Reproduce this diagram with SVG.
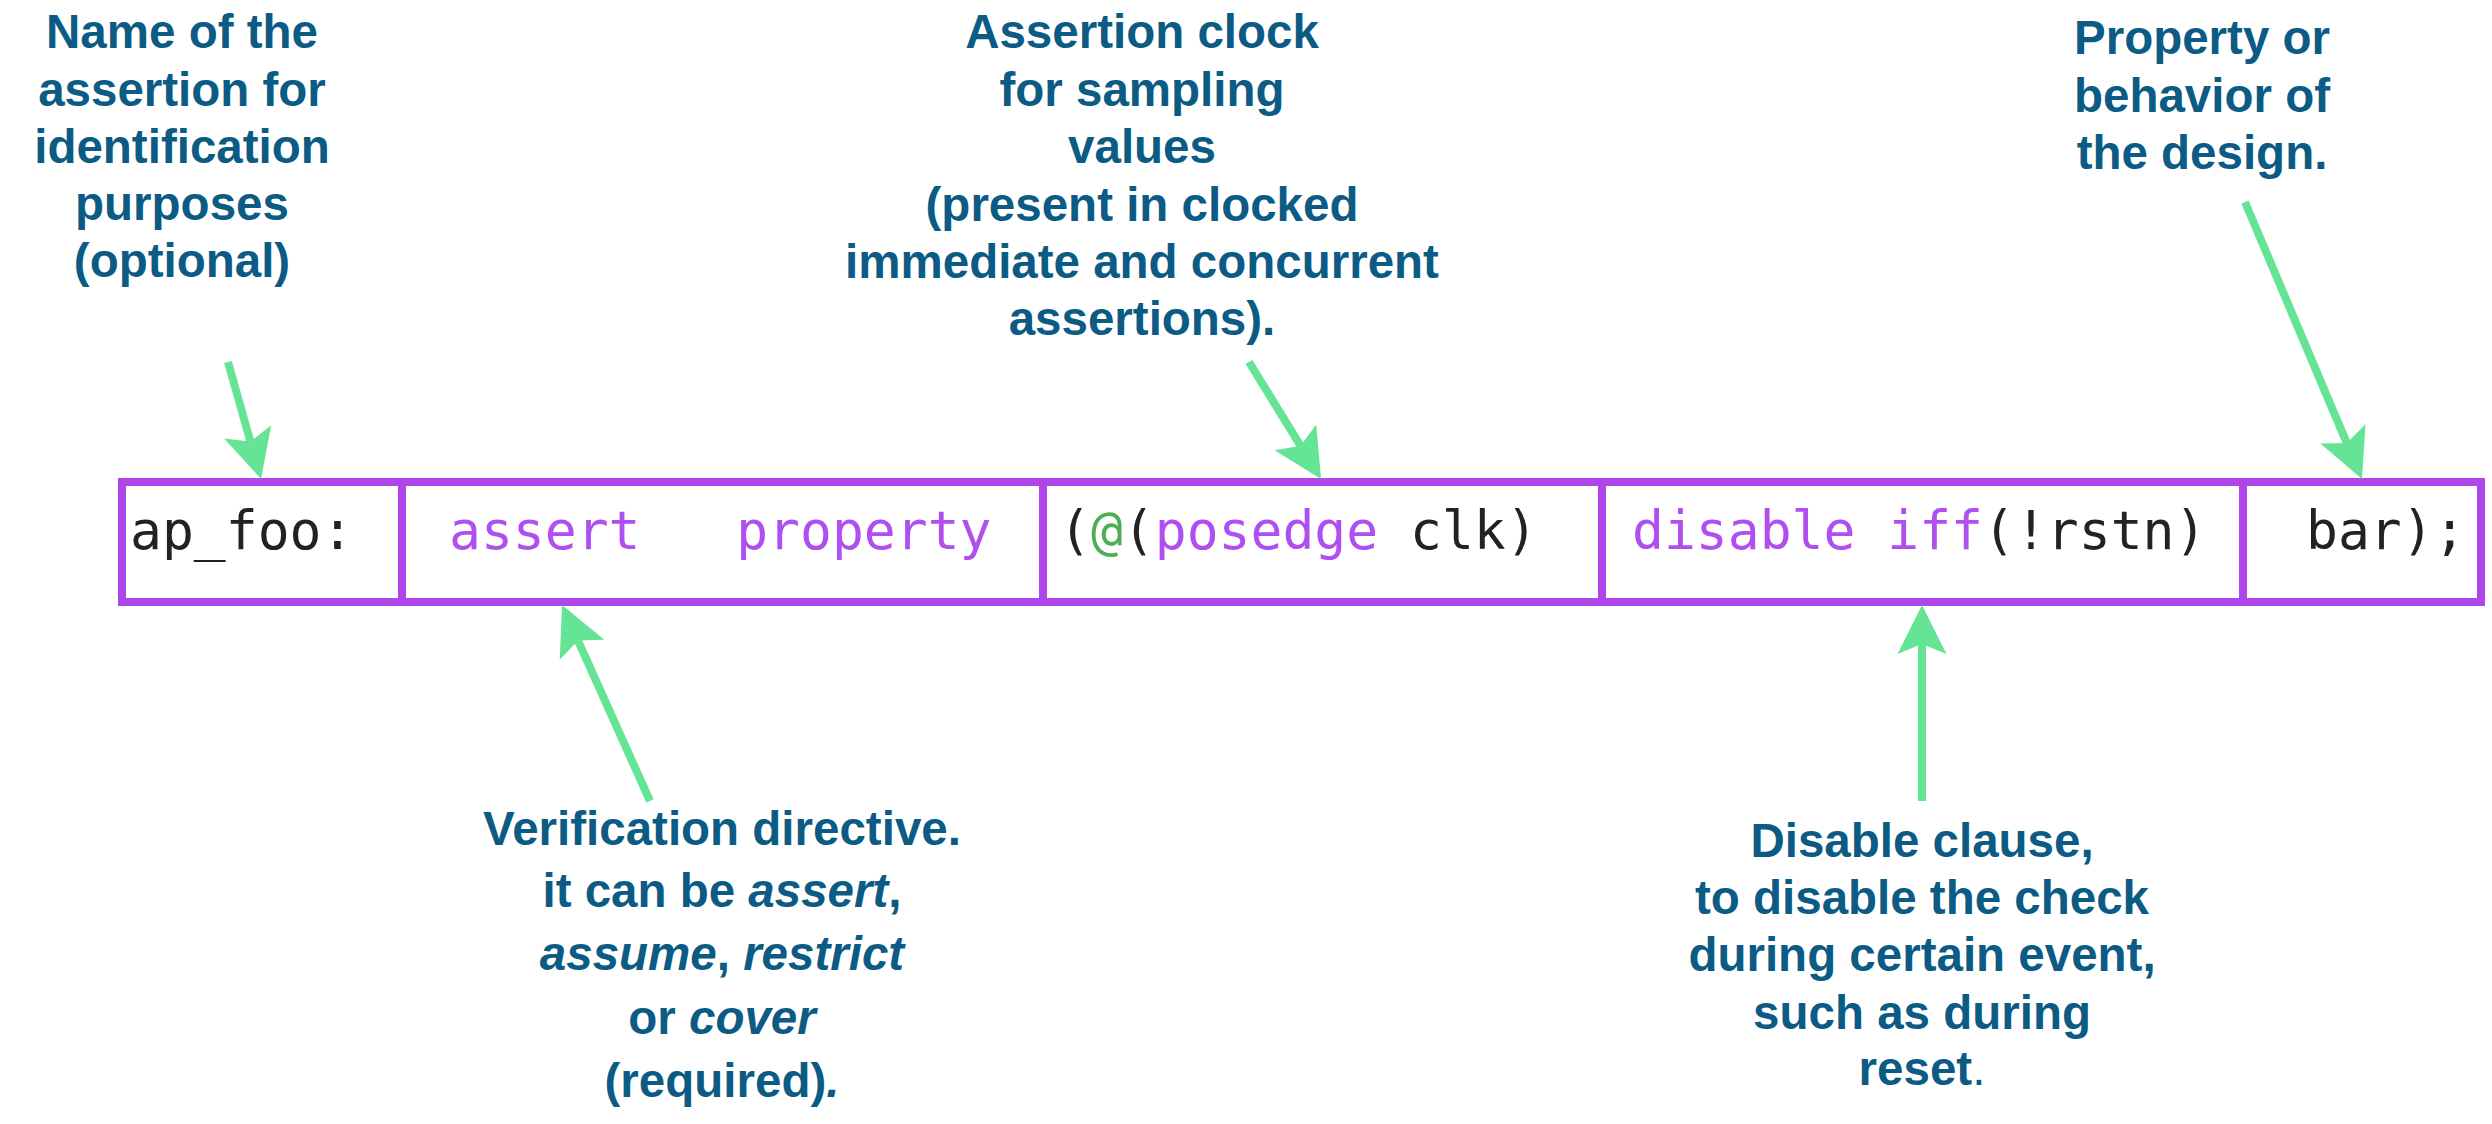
<svg xmlns="http://www.w3.org/2000/svg" width="2492" height="1124" viewBox="0 0 2492 1124">
<style>
.cell{fill:#ffffff;stroke:#af46e9;stroke-width:8}
.code{font-family:"DejaVu Sans Mono","Liberation Mono",monospace;font-size:53px;fill:#222222}
.kw{fill:#b04ef0}
.at{fill:#4fae55}
.lbl{font-family:"Liberation Sans",Arial,sans-serif;font-size:47.5px;font-weight:bold;fill:#0b5b84;text-anchor:middle}
.it{font-style:italic}
.nb{font-weight:normal}
.arr{stroke:#65e496;stroke-width:8;fill:none;marker-end:url(#ah)}
</style>
<defs>
<marker id="ah" markerUnits="userSpaceOnUse" markerWidth="70" markerHeight="70" viewBox="-20 -35 70 70" refX="0" refY="0" orient="auto">
<path d="M39,0 L-10,-24.5 L0,0 L-10,24.5 Z" fill="#65e496"/>
</marker>
</defs>
<rect width="2492" height="1124" fill="#ffffff"/>
<g id="cell-name">
<rect class="cell" x="122" y="482" width="280" height="120"/>
<text class="code" x="130" y="549">ap_foo:</text>
</g>
<g id="cell-directive">
<rect class="cell" x="402" y="482" width="641" height="120"/>
<text class="code kw" x="449" y="549" xml:space="preserve">assert   property</text>
</g>
<g id="cell-clock">
<rect class="cell" x="1043" y="482" width="559" height="120"/>
<text class="code" x="1059" y="549">(<tspan class="at">@</tspan>(<tspan class="kw">posedge</tspan> clk)</text>
</g>
<g id="cell-disable">
<rect class="cell" x="1602" y="482" width="641" height="120"/>
<text class="code" x="1632" y="549"><tspan class="kw">disable iff</tspan>(!rstn)</text>
</g>
<g id="cell-property">
<rect class="cell" x="2243" y="482" width="238" height="120"/>
<text class="code" x="2306" y="549">bar);</text>
</g>
<g id="label-name">
<text class="lbl" x="182" y="48">Name of the</text>
<text class="lbl" x="182" y="106">assertion for</text>
<text class="lbl" x="182" y="163">identification</text>
<text class="lbl" x="182" y="220">purposes</text>
<text class="lbl" x="182" y="277">(optional)</text>
</g>
<g id="label-clock">
<text class="lbl" x="1142" y="48">Assertion clock</text>
<text class="lbl" x="1142" y="105.5">for sampling</text>
<text class="lbl" x="1142" y="163">values</text>
<text class="lbl" x="1142" y="220.5">(present in clocked</text>
<text class="lbl" x="1142" y="278">immediate and concurrent</text>
<text class="lbl" x="1142" y="335">assertions).</text>
</g>
<g id="label-property">
<text class="lbl" x="2202" y="54">Property or</text>
<text class="lbl" x="2202" y="111.5">behavior of</text>
<text class="lbl" x="2202" y="169">the design.</text>
</g>
<g id="label-directive">
<text class="lbl" x="722" y="845">Verification directive.</text>
<text class="lbl" x="722" y="907">it can be <tspan class="it">assert</tspan>,</text>
<text class="lbl" x="722" y="970"><tspan class="it">assume</tspan>, <tspan class="it">restrict</tspan></text>
<text class="lbl" x="722" y="1034">or <tspan class="it">cover</tspan></text>
<text class="lbl" x="722" y="1097">(required)<tspan class="it">.</tspan></text>
</g>
<g id="label-disable">
<text class="lbl" x="1922" y="857">Disable clause,</text>
<text class="lbl" x="1922" y="913.5">to disable the check</text>
<text class="lbl" x="1922" y="971">during certain event,</text>
<text class="lbl" x="1922" y="1028.5">such as during</text>
<text class="lbl" x="1922" y="1085">reset<tspan class="nb">.</tspan></text>
</g>
<g id="connectors">
<line class="arr" x1="228" y1="362" x2="250.4" y2="441.5"/>
<line class="arr" x1="1249" y1="362" x2="1300.6" y2="445.8"/>
<line class="arr" x1="2245" y1="202" x2="2346.8" y2="443.1"/>
<line class="arr" x1="650" y1="801" x2="578" y2="640.6"/>
<line class="arr" x1="1922" y1="801" x2="1922" y2="644"/>
</g>
</svg>
